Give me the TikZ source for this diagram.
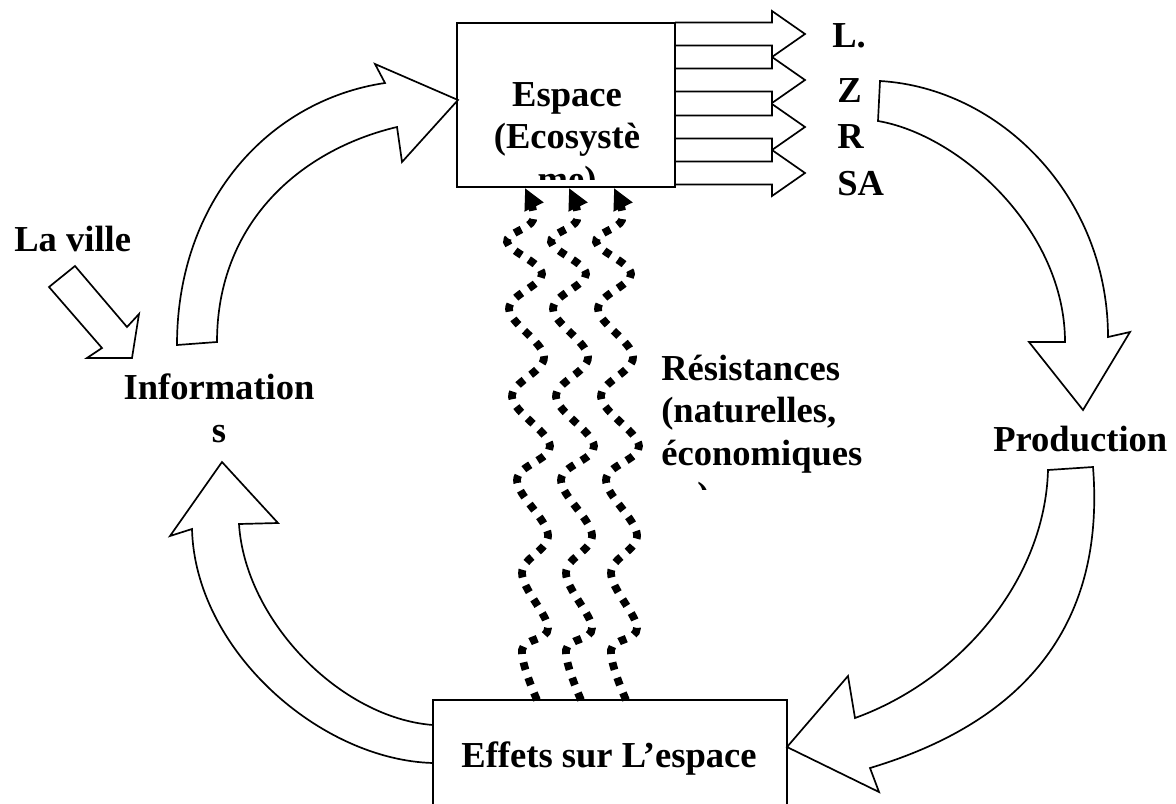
\documentclass[tikz,border=0pt]{standalone}
\usepackage{fontspec}
\setmainfont{Liberation Serif}
\usetikzlibrary{arrows.meta}

\tikzset{
  box/.style={draw, line width=1.2pt, fill=white, inner sep=0pt},
  fat arrow/.style={draw, line width=1.2pt, fill=white, line join=miter},
  txt/.style={font=\bfseries\fontsize{26}{30}\selectfont, inner sep=0pt},
  wavy/.style={line width=5.5pt, dash pattern=on 5.5pt off 6pt,
    -{Triangle[length=15pt,width=14pt]}},
}

\begin{document}
\begin{tikzpicture}[x=0.025cm, y=-0.025cm]
\useasboundingbox (0,0) rectangle (1176,803);
\clip (0,0) rectangle (1176,803);

% sorties de l'espace
\foreach \y in {34,80,127,173}
  \draw[fat arrow] (675,{\y-11.5}) -- (772,{\y-11.5}) -- (772,{\y-23}) -- (805,\y)
    -- (772,{\y+23}) -- (772,{\y+11.5}) -- (675,{\y+11.5});

% les deux cadres
\node[box, minimum width=5.45cm, minimum height=4.1cm] (espace) at (566,105) {};
\node[box, minimum width=8.85cm, minimum height=4cm] (effets) at (610,780) {};

\begin{scope}
  \clip (espace.north west) rectangle ([yshift=0.2cm]espace.south east);
  \node[txt, align=center, anchor=base] (espacetxt) at (567,191) {Espace\\(Ecosystè\\me)};
\end{scope}
\node[txt, anchor=base] (effetstxt) at (609,767) {Effets sur L’espace};

\node[txt, anchor=base west] (sortieL) at (832,47) {L.};
\node[txt, anchor=base west] (sortieZ) at (837,102) {Z};
\node[txt, anchor=base west] (sortieR) at (837,148) {R};
\node[txt, anchor=base west] (sortieSA) at (837,195) {SA};

% resistances
\foreach \d in {0,44,89}
  \draw[wavy, xshift=\d*0.025cm] plot[smooth, tension=0.6] coordinates {
    (537,700) (522,650) (548,628) (522,573) (548,535) (517,480) (550,446)
    (512,397) (544,357) (509,309) (542,274) (507,242) (533,220) (525,188)};

% grandes fleches du cycle
\draw[fat arrow] (177,345) -- (217,342) .. controls (217,223) and (300,150) .. (397,127)
  -- (402,162) -- (458,100) -- (375,64) -- (385,83)
  .. controls (270,100) and (177,200) .. (177,345) -- cycle;
\draw[fat arrow] (880,81) .. controls (1000,88) and (1108,196) .. (1108,337)
  -- (1130,332) -- (1083,410) -- (1029,342) -- (1065,342)
  .. controls (1065,230) and (960,135) .. (878,121) -- cycle;
\draw[fat arrow] (1048,470) -- (1093,467) .. controls (1105,620) and (1030,720) .. (870,768)
  -- (879,792) -- (787,747) -- (848,676) -- (855,718)
  .. controls (960,680) and (1045,580) .. (1048,470) -- cycle;
\draw[fat arrow] (433,725) -- (433,763) .. controls (320,760) and (195,650) .. (192,529)
  -- (170,536) -- (222,462) -- (278,523) -- (239,524)
  .. controls (245,620) and (340,718) .. (433,725) -- cycle;

% la ville
\draw[fat arrow] (49,287) -- (75,266) -- (127,327) -- (139,314) -- (132,358)
  -- (87,358) -- (102,348) -- cycle;
\node[txt, anchor=base west] (ville) at (14,251) {La ville};
\node[txt, align=center, anchor=base] (info) at (219,442) {Information\\s};
\node[txt, anchor=base west] (prod) at (993,451) {Production};

\begin{scope}
  \clip (640,340) rectangle (900,489);
  \node[txt, align=left, anchor=base west] (resist) at (661,465) {Résistances\\(naturelles,\\économiques};
  \node[txt, anchor=base west] (resistfin) at (697,507) {)};
\end{scope}
\end{tikzpicture}
\end{document}
